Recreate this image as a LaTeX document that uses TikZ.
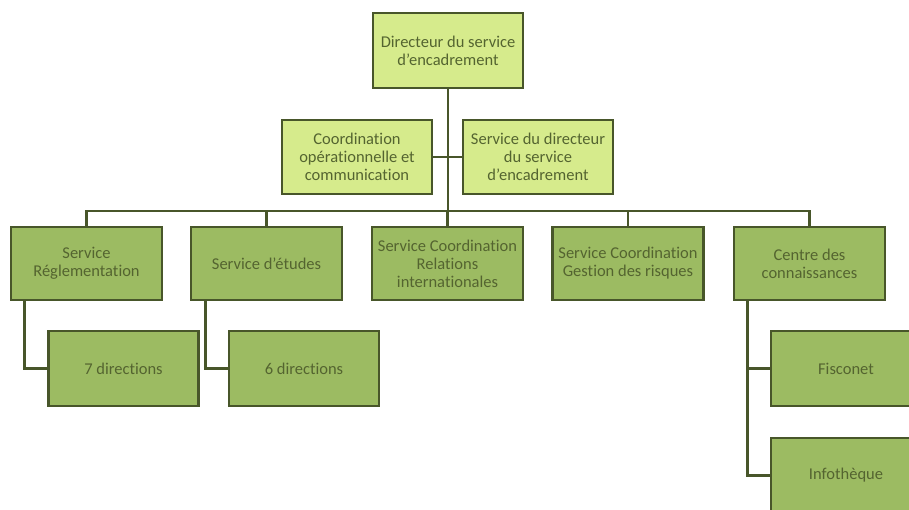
\documentclass[tikz,border=0pt]{standalone}
\usepackage{fontspec}
\setmainfont[Ligatures={NoCommon}]{Carlito}
\definecolor{lightfill}{RGB}{214,235,140}
\definecolor{darkfill}{RGB}{156,187,98}
\definecolor{edgecol}{RGB}{72,86,42}
\definecolor{txtcol}{RGB}{84,100,48}
\begin{document}
\begin{tikzpicture}[x=1pt,y=-1pt,
  box/.style={draw=edgecol,line width=2.8pt,minimum width=150pt,minimum height=74pt,
    align=center,text=txtcol,font=\fontsize{16.5}{18}\selectfont,inner sep=1pt},
  lbox/.style={box,fill=lightfill},
  dbox/.style={box,fill=darkfill},
  conn/.style={draw=edgecol,line width=2.8pt}]
\clip (0,0) rectangle (909,509);
\fill[white] (0,0) rectangle (909,509);
% top
\node[lbox,minimum height=75pt] (top) at (448,50.5) {Directeur du service\\d'encadrement};
\node[lbox] (coord) at (357,157) {Coordination\\opérationnelle et\\communication};
\node[lbox] (sdir) at (538,157) {Service du directeur\\du service\\d'encadrement};
% row 3
\node[dbox,minimum width=151pt,minimum height=73pt] (r1) at (86.5,263.5) {Service\\Réglementation};
\node[dbox,minimum width=151pt,minimum height=73pt] (r2) at (266.5,263.5) {Service d'études};
\node[dbox,minimum width=151pt,minimum height=73pt] (r3) at (447.5,263.5) {Service Coordination\\Relations\\internationales};
\node[dbox,minimum width=151pt,minimum height=73pt] (r4) at (628,263.5) {Service Coordination\\Gestion des risques};
\node[dbox,minimum width=151pt,minimum height=73pt] (r5) at (809.5,263.5) {Centre des\\connaissances};
% sub boxes
\node[dbox,minimum height=75pt] (d7) at (123.5,368.5) {7 directions};
\node[dbox,minimum height=75pt] (d6) at (304,368.5) {6 directions};
\node[dbox,minimum height=75pt] (fis) at (846,368.5) {Fisconet};
\node[dbox,minimum height=75pt] (info) at (846,475.5) {Infothèque};
% connectors
\coordinate (bus) at (448,211);
\draw[conn] (top.south) -- (bus);
\draw[conn] (r1.north) |- (bus) -| (r5.north);
\draw[conn] (r2.north) -- (r2.north |- bus);
\draw[conn] (r3.north) -- (r3.north |- bus);
\draw[conn] (r4.north) -- (r4.north |- bus);
\draw[conn] (coord.east) -- (sdir.west);
\draw[conn] ([xshift=15pt]r1.south west) |- (d7.west);
\draw[conn] ([xshift=16pt]r2.south west) |- (d6.west);
\draw[conn] ([xshift=15pt]r5.south west) |- (fis.west);
\draw[conn] ([xshift=15pt]r5.south west) |- (info.west);
\end{tikzpicture}
\end{document}
